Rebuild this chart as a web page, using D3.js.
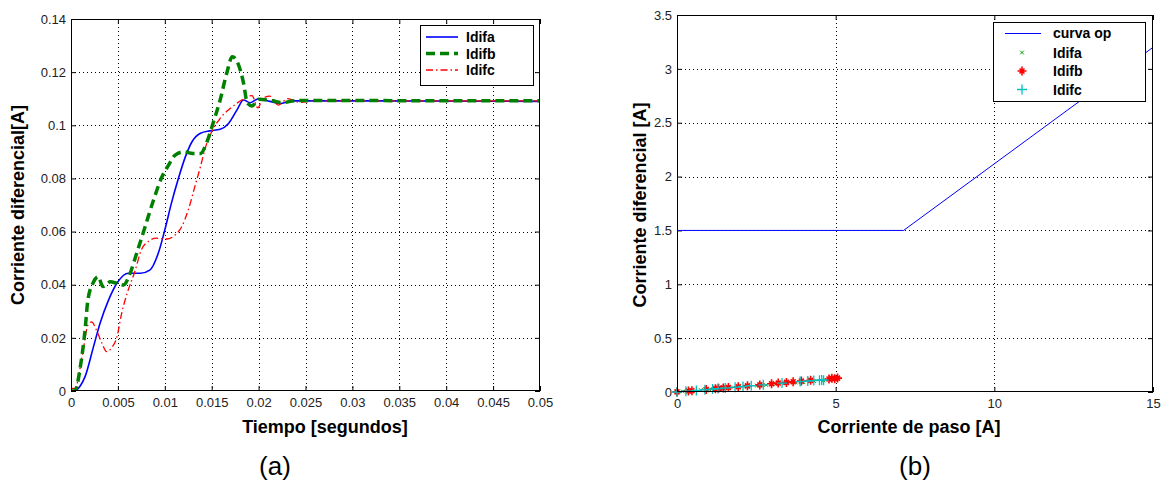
<!DOCTYPE html>
<html>
<head>
<meta charset="utf-8">
<script src="https://cdn.jsdelivr.net/npm/d3@7"></script>
<style>
  body { margin: 0; background: #fff; }
  svg { display: block; font-family: "Liberation Sans", Arial, sans-serif; }
</style>
</head>
<body>
<div id="chart"></div>
<script>
// ---- panel (a): differential current vs time ----
const idifaTime = [0, 0.0004, 0.0010, 0.0015, 0.0024, 0.0031, 0.0040, 0.0050, 0.0061, 0.0074, 0.0084, 0.0093, 0.0100, 0.0107, 0.0114, 0.0122, 0.0129, 0.0138, 0.0148, 0.0159, 0.0168, 0.0177, 0.0184, 0.0191, 0.0200, 0.0212, 0.0223, 0.0235, 0.05];
const idifaValue = [0, 0, 0.002, 0.0054, 0.0167, 0.0255, 0.0342, 0.0411, 0.0443, 0.0443, 0.0455, 0.0518, 0.0606, 0.0706, 0.0794, 0.0882, 0.0938, 0.0970, 0.0979, 0.0985, 0.1007, 0.1058, 0.1095, 0.1085, 0.1100, 0.1090, 0.1082, 0.1092, 0.1090];

const idifbTime = [0, 0.0004, 0.0010, 0.0015, 0.0018, 0.0024, 0.0029, 0.0034, 0.0042, 0.0049, 0.0056, 0.0063, 0.0070, 0.0079, 0.0088, 0.0097, 0.0104, 0.0111, 0.0120, 0.0130, 0.0138, 0.0145, 0.0152, 0.0159, 0.0166, 0.0172, 0.0178, 0.0184, 0.0188, 0.0193, 0.0200, 0.0215, 0.0225, 0.0240, 0.05];
const idifbValue = [0, 0, 0.0092, 0.023, 0.0342, 0.041, 0.043, 0.0393, 0.0411, 0.0405, 0.0399, 0.0443, 0.0518, 0.0618, 0.0719, 0.0806, 0.085, 0.0888, 0.0900, 0.0894, 0.0894, 0.0938, 0.1014, 0.1095, 0.1196, 0.1258, 0.1233, 0.1158, 0.1083, 0.1073, 0.1098, 0.1092, 0.1085, 0.1093, 0.1092];

const idifcTime = [0, 0.0005, 0.0008, 0.0013, 0.0018, 0.0022, 0.0027, 0.0033, 0.0038, 0.0043, 0.0049, 0.0054, 0.0061, 0.0068, 0.0075, 0.0082, 0.0091, 0.0102, 0.0111, 0.0118, 0.0125, 0.0132, 0.0138, 0.0143, 0.0150, 0.0159, 0.0170, 0.0182, 0.0193, 0.0199, 0.0205, 0.0212, 0.0221, 0.0231, 0.0244, 0.0260, 0.05];
const idifcValue = [0.001, 0.001, 0.0054, 0.0154, 0.0248, 0.026, 0.023, 0.018, 0.0148, 0.0161, 0.0204, 0.0292, 0.038, 0.0449, 0.0531, 0.0562, 0.0575, 0.0572, 0.0587, 0.0618, 0.0681, 0.0769, 0.0844, 0.0913, 0.0976, 0.1026, 0.1064, 0.1095, 0.1112, 0.1066, 0.1102, 0.1110, 0.1076, 0.1100, 0.1086, 0.1092, 0.1092];

const timeTicks = [0, 0.005, 0.01, 0.015, 0.02, 0.025, 0.03, 0.035, 0.04, 0.045, 0.05];
const currentTicks = [0, 0.02, 0.04, 0.06, 0.08, 0.1, 0.12, 0.14];

// ---- panel (b): operating curve and measured points ----
const curvaPaso = [0, 7.14, 15];
const curvaDif = [1.5, 1.5, 3.2];

const pointsAPaso = [0, 0.18, 0.42, 0.75, 1.02, 1.33, 1.58, 1.95, 2.18, 2.52, 2.81, 3.12, 3.38, 3.74, 3.98, 4.32, 4.61];
const pointsADif = [0.001, 0.005, 0.011, 0.018, 0.024, 0.032, 0.037, 0.046, 0.051, 0.060, 0.065, 0.074, 0.079, 0.088, 0.092, 0.101, 0.107];

const pointsBPaso = [0, 0.36, 0.47, 0.92, 1.21, 1.31, 1.46, 1.62, 1.93, 2.22, 2.61, 2.98, 3.19, 3.45, 3.66, 3.92, 4.21, 4.79, 4.88, 4.97, 5.06];
const pointsBDif = [0.001, 0.010, 0.012, 0.023, 0.031, 0.034, 0.038, 0.041, 0.049, 0.057, 0.066, 0.076, 0.083, 0.089, 0.095, 0.101, 0.108, 0.121, 0.127, 0.124, 0.129];

const pointsCPaso = [0, 0.28, 0.61, 0.88, 1.12, 1.29, 1.52, 1.83, 2.08, 2.34, 2.72, 3.31, 3.88, 4.12, 4.31, 4.49, 4.56, 4.62];
const pointsCDif = [0, 0.007, 0.015, 0.021, 0.027, 0.032, 0.037, 0.044, 0.051, 0.058, 0.067, 0.083, 0.097, 0.102, 0.106, 0.109, 0.112, 0.110];

const pasoTicks = [0, 5, 10, 15];
const difTicks = [0, 0.5, 1, 1.5, 2, 2.5, 3, 3.5];

const W = 1161, H = 494;
const svg = d3.select("#chart").append("svg").attr("width", W).attr("height", H);

function zip(xs, ys) {
    return xs.map((d, i) => [d, ys[i]]);
}

function drawFrame(g, x, y, xTicks, yTicks, xFmt, yFmt, clipId) {
    let [x0, x1] = x.range();
    let [y0, y1] = y.range(); // y0 bottom, y1 top

    g.append("rect")
        .attr("x", x0).attr("y", y1)
        .attr("width", x1 - x0).attr("height", y0 - y1)
        .attr("fill", "#fff");

    g.append("clipPath").attr("id", clipId)
        .append("rect")
        .attr("x", x0).attr("y", y1)
        .attr("width", x1 - x0).attr("height", y0 - y1);

    //dotted grid
    let grid = g.append("g").attr("stroke", "#000").attr("stroke-width", 1)
        .attr("stroke-dasharray", "1,3").attr("shape-rendering", "crispEdges");
    grid.selectAll(".gx").data(xTicks.slice(1, -1)).join("line")
        .attr("x1", d => Math.round(x(d)) + 0.5).attr("x2", d => Math.round(x(d)) + 0.5)
        .attr("y1", y1).attr("y2", y0);
    grid.selectAll(".gy").data(yTicks.slice(1, -1)).join("line")
        .attr("y1", d => Math.round(y(d)) + 0.5).attr("y2", d => Math.round(y(d)) + 0.5)
        .attr("x1", x0).attr("x2", x1);

    let axes = [
        [d3.axisBottom(x).tickValues(xTicks).tickSize(-5).tickPadding(7).tickFormat(xFmt), `translate(0,${y0})`],
        [d3.axisLeft(y).tickValues(yTicks).tickSize(-5).tickPadding(5).tickFormat(yFmt), `translate(${x0},0)`],
        [d3.axisTop(x).tickValues(xTicks).tickSize(-5).tickFormat(""), `translate(0,${y1})`],
        [d3.axisRight(y).tickValues(yTicks).tickSize(-5).tickFormat(""), `translate(${x1},0)`],
    ];
    for (let [ax, tr] of axes) {
        let a = g.append("g").attr("transform", tr).call(ax);
        a.select(".domain").remove();
        a.selectAll("line").attr("stroke", "#000");
        a.selectAll("text").attr("font-size", 13).attr("fill", "#222")
            .attr("font-family", "'Liberation Sans', Arial, sans-serif");
    }
    return g;
}

function drawBorder(g, x, y) {
    let [x0, x1] = x.range();
    let [y0, y1] = y.range();
    g.append("rect")
        .attr("x", x0 + 0.5).attr("y", y1 + 0.5)
        .attr("width", x1 - x0 - 1).attr("height", y0 - y1 - 1)
        .attr("fill", "none").attr("stroke", "#000").attr("stroke-width", 1);
}

// ================= panel (a) =================
const gA = svg.append("g");
const xA = d3.scaleLinear().domain([0, 0.05]).range([71, 540]);
const yA = d3.scaleLinear().domain([0, 0.14]).range([391, 19]);

drawFrame(gA, xA, yA, timeTicks, currentTicks, d => d === 0 ? "0" : String(d), d => d === 0 ? "0" : String(d), "clipA");

const lineA = d3.line().x(d => xA(d[0])).y(d => yA(d[1])).curve(d3.curveMonotoneX);

const seriesA = [
    { name: "Idifa", data: zip(idifaTime, idifaValue), color: "#0000ff", width: 1.6, dash: null },
    { name: "Idifb", data: zip(idifbTime, idifbValue), color: "#008000", width: 3.5, dash: "9,5" },
    { name: "Idifc", data: zip(idifcTime, idifcValue), color: "#ff0000", width: 1.3, dash: "7,3,1.5,3" },
];

const curvesA = gA.append("g").attr("clip-path", "url(#clipA)");
for (let s of [seriesA[0], seriesA[2], seriesA[1]]) {
    curvesA.append("path")
        .attr("d", lineA(s.data))
        .attr("fill", "none")
        .attr("stroke", s.color)
        .attr("stroke-width", s.width)
        .attr("stroke-dasharray", s.dash);
}
drawBorder(gA, xA, yA);

// legend (a)
const legA = gA.append("g").attr("transform", "translate(420,25)");
legA.append("rect").attr("x", 0.5).attr("y", 0.5).attr("width", 113).attr("height", 60)
    .attr("fill", "#fff").attr("stroke", "#000");
seriesA.forEach((s, i) => {
    let yy = 12 + i * 16.5;
    legA.append("line").attr("x1", 6).attr("x2", 38).attr("y1", yy).attr("y2", yy)
        .attr("stroke", s.color).attr("stroke-width", s.width).attr("stroke-dasharray", s.dash);
    legA.append("text").attr("x", 46).attr("y", yy + 5).text(s.name)
        .attr("font-size", 14).attr("font-weight", "bold").attr("fill", "#000");
});

gA.append("text").attr("x", 325).attr("y", 433).attr("text-anchor", "middle")
    .attr("font-size", 18).attr("font-weight", "bold").text("Tiempo [segundos]");
gA.append("text").attr("transform", "translate(24,205) rotate(-90)").attr("text-anchor", "middle")
    .attr("font-size", 18).attr("font-weight", "bold").text("Corriente diferencial[A]");
gA.append("text").attr("x", 275).attr("y", 475).attr("text-anchor", "middle")
    .attr("font-size", 26).text("(a)");

// ================= panel (b) =================
const gB = svg.append("g");
const xB = d3.scaleLinear().domain([0, 15]).range([677, 1153]);
const yB = d3.scaleLinear().domain([0, 3.5]).range([392, 15]);

drawFrame(gB, xB, yB, pasoTicks, difTicks, d => String(d), d => String(d), "clipB");

const curveLine = d3.line().x(d => xB(d[0])).y(d => yB(d[1]));
const plotB = gB.append("g").attr("clip-path", "url(#clipB)");
plotB.append("path")
    .attr("d", curveLine(zip(curvaPaso, curvaDif)))
    .attr("fill", "none").attr("stroke", "#0000ff").attr("stroke-width", 1);

function markerPath(type, s) {
    let p = d3.path();
    if (type === "x" || type === "*") {
        let r = type === "x" ? s * 0.7 : s * 0.55;
        p.moveTo(-r, -r); p.lineTo(r, r);
        p.moveTo(-r, r); p.lineTo(r, -r);
    }
    if (type === "+" || type === "*") {
        p.moveTo(-s, 0); p.lineTo(s, 0);
        p.moveTo(0, -s); p.lineTo(0, s);
    }
    return p.toString();
}

const seriesB = [
    { name: "Idifa", data: zip(pointsAPaso, pointsADif), color: "#00a000", marker: "x", size: 2.6, width: 1 },
    { name: "Idifb", data: zip(pointsBPaso, pointsBDif), color: "#ff0000", marker: "*", size: 4.5, width: 1.6 },
    { name: "Idifc", data: zip(pointsCPaso, pointsCDif), color: "#00bfbf", marker: "+", size: 5, width: 1.3 },
];

for (let s of seriesB) {
    gB.append("g").selectAll("path").data(s.data).join("path")
        .attr("transform", d => `translate(${xB(d[0])},${yB(d[1])})`)
        .attr("d", markerPath(s.marker, s.size))
        .attr("fill", "none").attr("stroke", s.color).attr("stroke-width", s.width);
}
drawBorder(gB, xB, yB);

// legend (b)
const legB = gB.append("g").attr("transform", "translate(993,22)");
legB.append("rect").attr("x", 0.5).attr("y", 0.5).attr("width", 152).attr("height", 79)
    .attr("fill", "#fff").attr("stroke", "#000");
legB.append("rect").attr("x", 12).attr("y", 11).attr("width", 36).attr("height", 1)
    .attr("fill", "#0000ff");
legB.append("text").attr("x", 60).attr("y", 16).text("curva op")
    .attr("font-size", 14).attr("font-weight", "bold");
seriesB.forEach((s, i) => {
    let yy = 30.5 + i * 18.5;
    legB.append("path").attr("transform", `translate(29,${yy})`)
        .attr("d", markerPath(s.marker, s.size))
        .attr("fill", "none").attr("stroke", s.color).attr("stroke-width", s.width);
    legB.append("text").attr("x", 60).attr("y", yy + 5).text(s.name)
        .attr("font-size", 14).attr("font-weight", "bold");
});

gB.append("text").attr("x", 909).attr("y", 433).attr("text-anchor", "middle")
    .attr("font-size", 18).attr("font-weight", "bold").text("Corriente de paso [A]");
gB.append("text").attr("transform", "translate(646,205) rotate(-90)").attr("text-anchor", "middle")
    .attr("font-size", 18).attr("font-weight", "bold").text("Corriente diferencial [A]");
gB.append("text").attr("x", 915).attr("y", 475).attr("text-anchor", "middle")
    .attr("font-size", 26).text("(b)");
</script>
</body>
</html>
